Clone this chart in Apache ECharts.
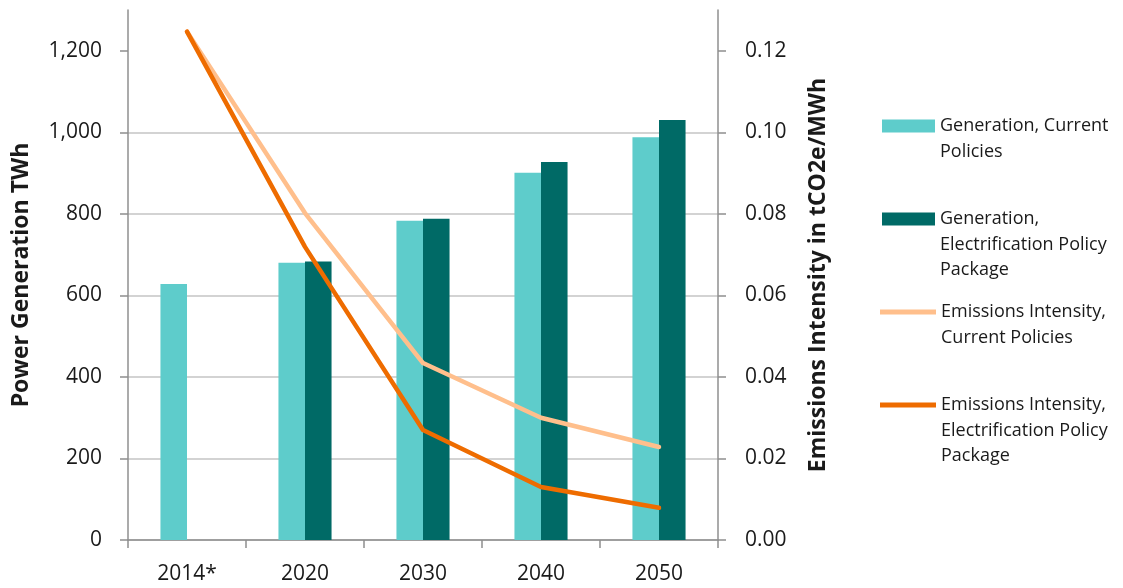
<!DOCTYPE html>
<html>
<head>
<meta charset="utf-8">
<script src="https://cdn.jsdelivr.net/npm/echarts@6/dist/echarts.min.js"></script>
<style>
html,body{margin:0;padding:0;background:#fff;}
#chart{width:1123px;height:588px;}
</style>
</head>
<body>
<div id="chart"></div>
<script>
const categories = ['2014*', '2020', '2030', '2040', '2050'];
const genCurrent = [628, 680, 783, 901, 988];
const genElectrification = [null, 683, 788, 927, 1030];
const emisCurrent = [0.1247, 0.0802, 0.0434, 0.0300, 0.0228];
const emisElectrification = [0.1247, 0.0719, 0.0270, 0.0130, 0.0079];
const leftTicks = [0, 200, 400, 600, 800, 1000, 1200];
const rightTicks = [0, 0.02, 0.04, 0.06, 0.08, 0.10, 0.12];

const names = [
  'Generation, Current Policies',
  'Generation, Electrification Policy Package',
  'Emissions Intensity, Current Policies',
  'Emissions Intensity, Electrification Policy Package'
];
const legendText = {
  'Generation, Current Policies': '\nGeneration, Current\nPolicies',
  'Generation, Electrification Policy Package': '\n\nGeneration,\nElectrification Policy\nPackage',
  'Emissions Intensity, Current Policies': '\nEmissions Intensity,\nCurrent Policies',
  'Emissions Intensity, Electrification Policy Package': '\n\nEmissions Intensity,\nElectrification Policy\nPackage'
};

const FONT = '"Open Sans", Lato, sans-serif';
const txt = '#1a1a1a';
const axisGray = '#8f8f8f';
const gridGray = '#c4c4c4';

function mkLegend(name, top, isLine) {
  return {
    data: [name],
    left: isLine ? 880 : 882,
    top: top,
    padding: 0,
    orient: 'vertical',
    icon: 'rect',
    itemWidth: isLine ? 56 : 53,
    itemHeight: isLine ? 5 : 13,
    itemGap: 0,
    selectedMode: false,
    formatter: n => legendText[n],
    textStyle: { fontFamily: FONT, fontSize: 18, color: txt, lineHeight: 25.5 }
  };
}

const chart = echarts.init(document.getElementById('chart'), null, { renderer: 'canvas' });
chart.setOption({
  animation: false,
  backgroundColor: '#ffffff',
  grid: { left: 128, right: 405, top: 10, bottom: 48, containLabel: false },
  legend: [
    mkLegend(names[0], 87.75, false),
    mkLegend(names[1], 155.25, false),
    mkLegend(names[2], 273.75, true),
    mkLegend(names[3], 341.25, true)
  ],
  xAxis: {
    type: 'category',
    data: categories,
    boundaryGap: true,
    axisLine: { lineStyle: { color: axisGray, width: 1.5 } },
    axisTick: { show: true, length: 8, alignWithLabel: false, lineStyle: { color: axisGray, width: 1.5 } },
    axisLabel: { fontFamily: FONT, fontSize: 21, color: txt, margin: 24 }
  },
  yAxis: [
    {
      type: 'value', min: 0, max: 1300, interval: 200, position: 'left',
      name: 'Power Generation TWh', nameLocation: 'middle', nameGap: 95, nameRotate: 90,
      nameTextStyle: { fontFamily: FONT, fontSize: 23, fontWeight: 'bold', color: txt },
      axisLine: { show: true, lineStyle: { color: axisGray, width: 1.5 } },
      axisTick: { show: true, length: 8, customValues: leftTicks, lineStyle: { color: axisGray, width: 1.5 } },
      axisLabel: {
        customValues: leftTicks, fontFamily: FONT, fontSize: 21, color: txt, margin: 26,
        formatter: v => v.toLocaleString('en-US')
      },
      splitLine: { show: true, showMaxLine: false, lineStyle: { color: gridGray, width: 1.5 } }
    },
    {
      type: 'value', min: 0, max: 0.13, interval: 0.02, position: 'right',
      name: 'Emissions Intensity in tCO2e/MWh', nameLocation: 'middle', nameGap: 89, nameRotate: 90,
      nameTextStyle: { fontFamily: FONT, fontSize: 23, fontWeight: 'bold', color: txt },
      axisLine: { show: true, lineStyle: { color: axisGray, width: 1.5 } },
      axisTick: { show: true, length: 8, customValues: rightTicks, lineStyle: { color: axisGray, width: 1.5 } },
      axisLabel: {
        customValues: rightTicks, fontFamily: FONT, fontSize: 21, color: txt, margin: 27,
        formatter: v => v.toFixed(2)
      },
      splitLine: { show: false }
    }
  ],
  series: [
    {
      name: names[0], type: 'bar', yAxisIndex: 0, data: genCurrent,
      barGap: '0%', barCategoryGap: '55%',
      itemStyle: { color: '#5ecccb' }
    },
    {
      name: names[1], type: 'bar', yAxisIndex: 0, data: genElectrification,
      barGap: '0%', barCategoryGap: '55%',
      itemStyle: { color: '#006a66' }
    },
    {
      name: names[2], type: 'line', yAxisIndex: 1, data: emisCurrent,
      showSymbol: false, symbol: 'none',
      lineStyle: { color: '#ffbf8c', width: 4.5, cap: 'round', join: 'round' },
      itemStyle: { color: '#ffbf8c' }, z: 3
    },
    {
      name: names[3], type: 'line', yAxisIndex: 1, data: emisElectrification,
      showSymbol: false, symbol: 'none',
      lineStyle: { color: '#ee6c00', width: 4.5, cap: 'round', join: 'round' },
      itemStyle: { color: '#ee6c00' }, z: 4
    }
  ]
});
</script>
</body>
</html>
